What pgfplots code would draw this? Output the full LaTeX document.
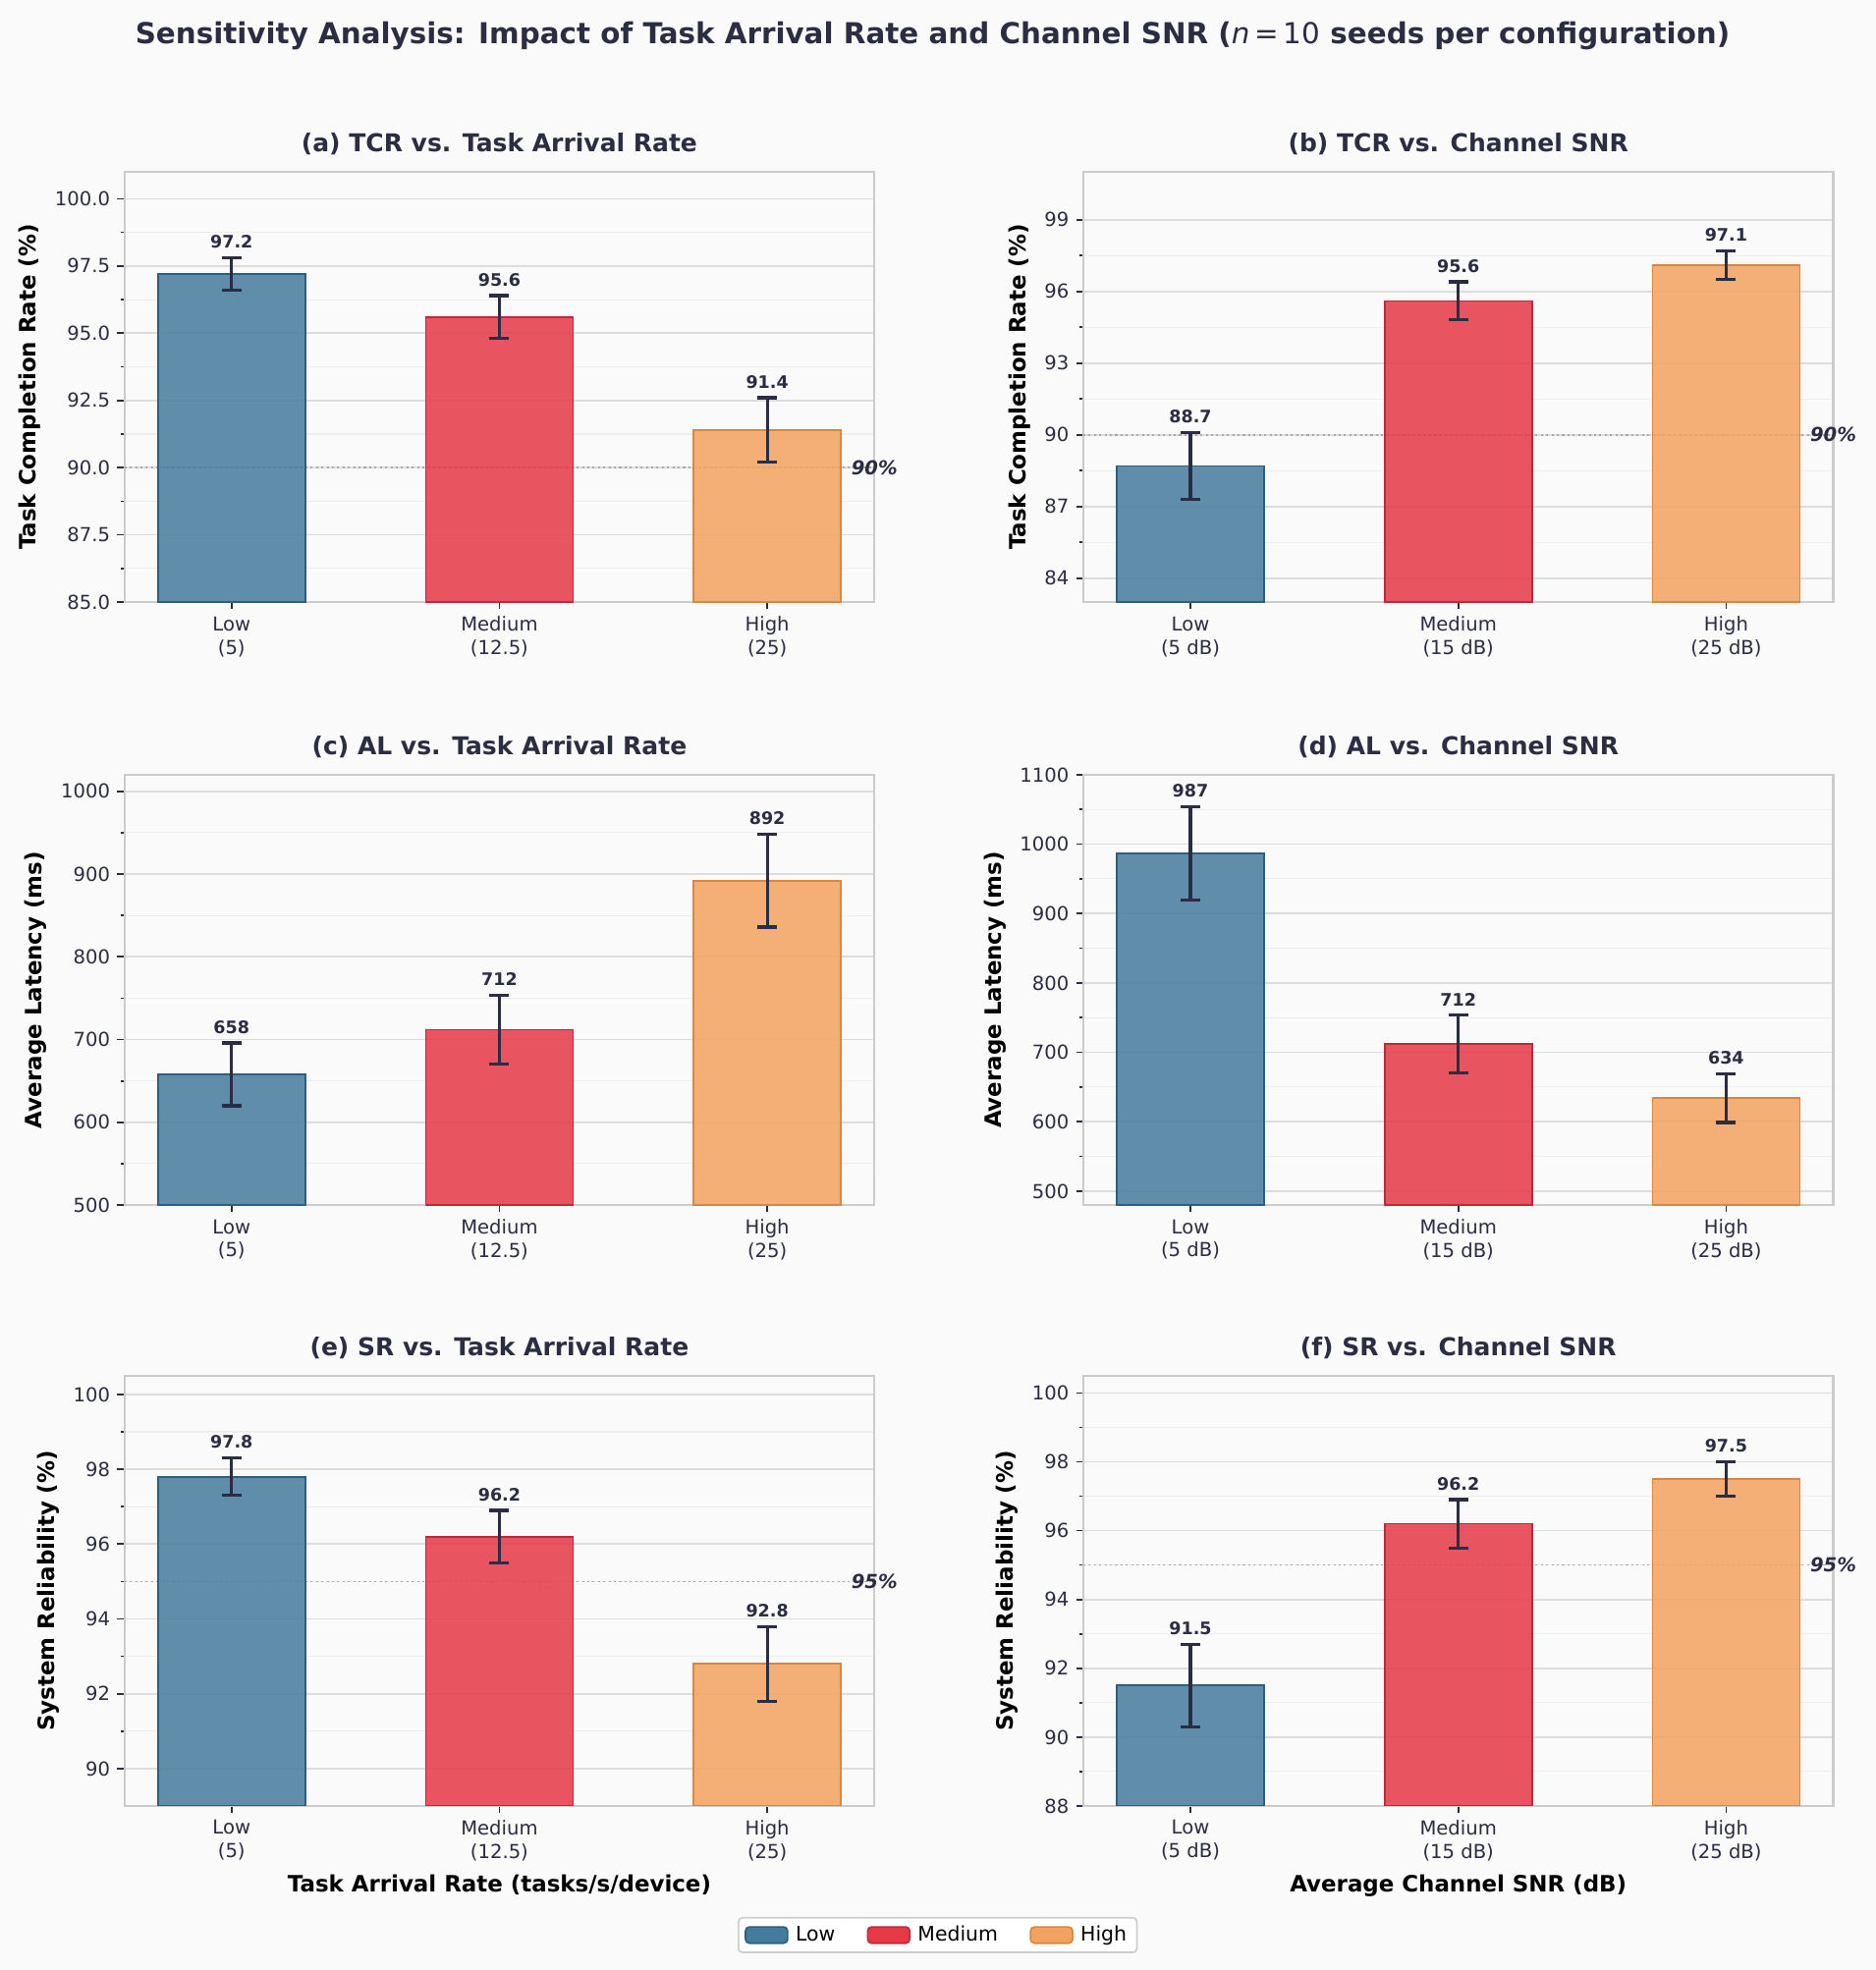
\documentclass[border=0pt]{standalone}
\usepackage{fontspec}
\setmainfont{DejaVu Sans}
\usepackage{pgfplots}
\pgfplotsset{compat=1.18}
\definecolor{cBg}{HTML}{FAFAFA}
\definecolor{cText}{HTML}{2B2D42}
\definecolor{cLow}{HTML}{457B9D}
\definecolor{cMed}{HTML}{E63946}
\definecolor{cHigh}{HTML}{F4A261}
\definecolor{cLowE}{HTML}{2F5F80}
\definecolor{cMedE}{HTML}{BE2A37}
\definecolor{cHighE}{HTML}{D9873F}
\definecolor{cSpine}{HTML}{CCCCCC}
\definecolor{cGrid}{HTML}{DDDDDD}
\definecolor{cMinor}{HTML}{EEEEEE}
\definecolor{cRef}{HTML}{A8A8A8}
\tikzset{reflabel/.style={font=\bfseries\itshape\fontsize{9.4}{11.5}\selectfont, text=cText}}
\pgfplotsset{
  panel/.style={
    scale only axis, width=366.5pt, height=210.3pt, anchor=north west,
    xmin=-0.4, xmax=2.4, xtick={0,1,2},
    axis background/.style={fill=cBg},
    axis line style={cSpine, line width=1pt},
    tick align=outside, tick pos=left,
    major tick length=3.5pt, minor tick length=2pt,
    every tick/.style={cText, line width=0.8pt},
    minor y tick num=1,
    ymajorgrids, yminorgrids,
    major grid style={cGrid, line width=0.8pt},
    minor grid style={cMinor, line width=0.5pt},
    ticklabel style={font=\fontsize{9.4}{11.5}\selectfont, text=cText},
    xticklabel style={align=center},
    /pgf/number format/assume math mode=true,
    /pgf/number format/1000 sep={},
    title style={font=\bfseries\fontsize{12}{14.4}\selectfont, text=cText, yshift=-1.4pt},
    label style={font=\bfseries\fontsize{11}{13.2}\selectfont, text=black},
    clip mode=individual,
  },
  arrival/.style={xticklabels={{Low\\(5)},{Medium\\(12.5)},{High\\(25)}}},
  snr/.style={xticklabels={{Low\\(5 dB)},{Medium\\(15 dB)},{High\\(25 dB)}}},
  barbase/.style={ybar, bar width=0.55, bar shift=0pt, line width=0.8pt, fill opacity=0.85,
    error bars/y dir=both, error bars/y explicit,
    error bars/error bar style={draw=cText, line width=1.5pt, solid, draw opacity=1},
    error bars/error mark options={rotate=90, draw=cText, line width=1.5pt, mark size=4.8pt},
    legend image code/.code={\draw[##1, fill opacity=1] (0pt,-4pt) rectangle (20.6pt,4pt);}},
  lowbar/.style={barbase, fill=cLow, draw=cLowE},
  medbar/.style={barbase, fill=cMed, draw=cMedE},
  highbar/.style={barbase, fill=cHigh, draw=cHighE},
  vallabels/.style={forget plot, draw=none, mark=none, nodes near coords, point meta=explicit symbolic,
    nodes near coords style={font=\bfseries\fontsize{8.4}{10}\selectfont, text=cText, anchor=south, yshift=1pt}},
  refline/.style={forget plot, cRef, dash pattern=on 1pt off 1.6pt, line width=0.8pt},
}
\begin{document}
\begin{tikzpicture}
\fill[cBg] (0pt,0pt) rectangle (916.8pt,-962.88pt);
\node[font=\bfseries\fontsize{14.1}{16.8}\selectfont, text=cText] at (455.8pt,-17.6pt)
  {Sensitivity Analysis: Impact of Task Arrival Rate and Channel SNR ({\mdseries\itshape n}\,{\mdseries=\,10} seeds per configuration)};

% (a)
\begin{axis}[panel, arrival, at={(60.8pt,-84.0pt)},
  ymin=85, ymax=101, ytick={85,87.5,90,92.5,95,97.5,100},
  yticklabel style={/pgf/number format/.cd, fixed, fixed zerofill, precision=1},
  title={(a) TCR vs. Task Arrival Rate}, ylabel={Task Completion Rate (\%)}]
\addplot[refline] coordinates {(-0.4,90) (2.4,90)};
\addplot[lowbar] coordinates {(0,97.2) +- (0,0.6)};
\addplot[medbar] coordinates {(1,95.6) +- (0,0.8)};
\addplot[highbar] coordinates {(2,91.4) +- (0,1.2)};
\addplot[vallabels] coordinates {(0,97.8)[97.2] (1,96.4)[95.6] (2,92.6)[91.4]};
\node[reflabel] at (axis cs:2.4,90) {90\%};
\end{axis}

% (b)
\begin{axis}[panel, snr, at={(529.4pt,-84.0pt)},
  ymin=83, ymax=101, ytick={84,87,90,93,96,99},
  title={(b) TCR vs. Channel SNR}, ylabel={Task Completion Rate (\%)}]
\addplot[refline] coordinates {(-0.4,90) (2.4,90)};
\addplot[lowbar] coordinates {(0,88.7) +- (0,1.4)};
\addplot[medbar] coordinates {(1,95.6) +- (0,0.8)};
\addplot[highbar] coordinates {(2,97.1) +- (0,0.6)};
\addplot[vallabels] coordinates {(0,90.1)[88.7] (1,96.4)[95.6] (2,97.7)[97.1]};
\node[reflabel] at (axis cs:2.4,90) {90\%};
\end{axis}

% (c)
\begin{axis}[panel, arrival, at={(60.8pt,-378.7pt)},
  ymin=500, ymax=1020, ytick={500,600,700,800,900,1000},
  title={(c) AL vs. Task Arrival Rate}, ylabel={Average Latency (ms)}]
\addplot[lowbar] coordinates {(0,658) +- (0,38)};
\addplot[medbar] coordinates {(1,712) +- (0,42)};
\addplot[highbar] coordinates {(2,892) +- (0,56)};
\addplot[vallabels] coordinates {(0,696)[658] (1,754)[712] (2,948)[892]};
\end{axis}

% (d)
\begin{axis}[panel, snr, at={(529.4pt,-378.7pt)},
  ymin=480, ymax=1100, ytick={500,600,700,800,900,1000,1100},
  title={(d) AL vs. Channel SNR}, ylabel={Average Latency (ms)}]
\addplot[lowbar] coordinates {(0,987) +- (0,67)};
\addplot[medbar] coordinates {(1,712) +- (0,42)};
\addplot[highbar] coordinates {(2,634) +- (0,35)};
\addplot[vallabels] coordinates {(0,1054)[987] (1,754)[712] (2,669)[634]};
\end{axis}

% (e)
\begin{axis}[panel, arrival, at={(60.8pt,-672.4pt)},
  ymin=89, ymax=100.5, ytick={90,92,94,96,98,100},
  title={(e) SR vs. Task Arrival Rate}, ylabel={System Reliability (\%)},
  xlabel={Task Arrival Rate (tasks/s/device)},
  legend style={at={(1.0845,-0.300)}, anchor=center, legend columns=3,
    draw=cSpine, fill=white, rounded corners=2pt, line width=0.8pt,
    font=\fontsize{9.8}{12}\selectfont, text=black,
    /tikz/every odd column/.append style={column sep=1.5pt},
    /tikz/every even column/.append style={column sep=13.5pt}}]
\addplot[refline] coordinates {(-0.4,95) (2.4,95)};
\addplot[lowbar] coordinates {(0,97.8) +- (0,0.5)};
\addlegendentry{Low}
\addplot[medbar] coordinates {(1,96.2) +- (0,0.7)};
\addlegendentry{Medium}
\addplot[highbar] coordinates {(2,92.8) +- (0,1.0)};
\addlegendentry{High}
\addplot[vallabels] coordinates {(0,98.3)[97.8] (1,96.9)[96.2] (2,93.8)[92.8]};
\node[reflabel] at (axis cs:2.4,95) {95\%};
\end{axis}

% (f)
\begin{axis}[panel, snr, at={(529.4pt,-672.4pt)},
  ymin=88, ymax=100.5, ytick={88,90,92,94,96,98,100},
  title={(f) SR vs. Channel SNR}, ylabel={System Reliability (\%)},
  xlabel={Average Channel SNR (dB)}]
\addplot[refline] coordinates {(-0.4,95) (2.4,95)};
\addplot[lowbar] coordinates {(0,91.5) +- (0,1.2)};
\addplot[medbar] coordinates {(1,96.2) +- (0,0.7)};
\addplot[highbar] coordinates {(2,97.5) +- (0,0.5)};
\addplot[vallabels] coordinates {(0,92.7)[91.5] (1,96.9)[96.2] (2,98.0)[97.5]};
\node[reflabel] at (axis cs:2.4,95) {95\%};
\end{axis}
\pgfresetboundingbox
\useasboundingbox (0pt,0pt) rectangle (916.8pt,-962.88pt);
\end{tikzpicture}
\end{document}
